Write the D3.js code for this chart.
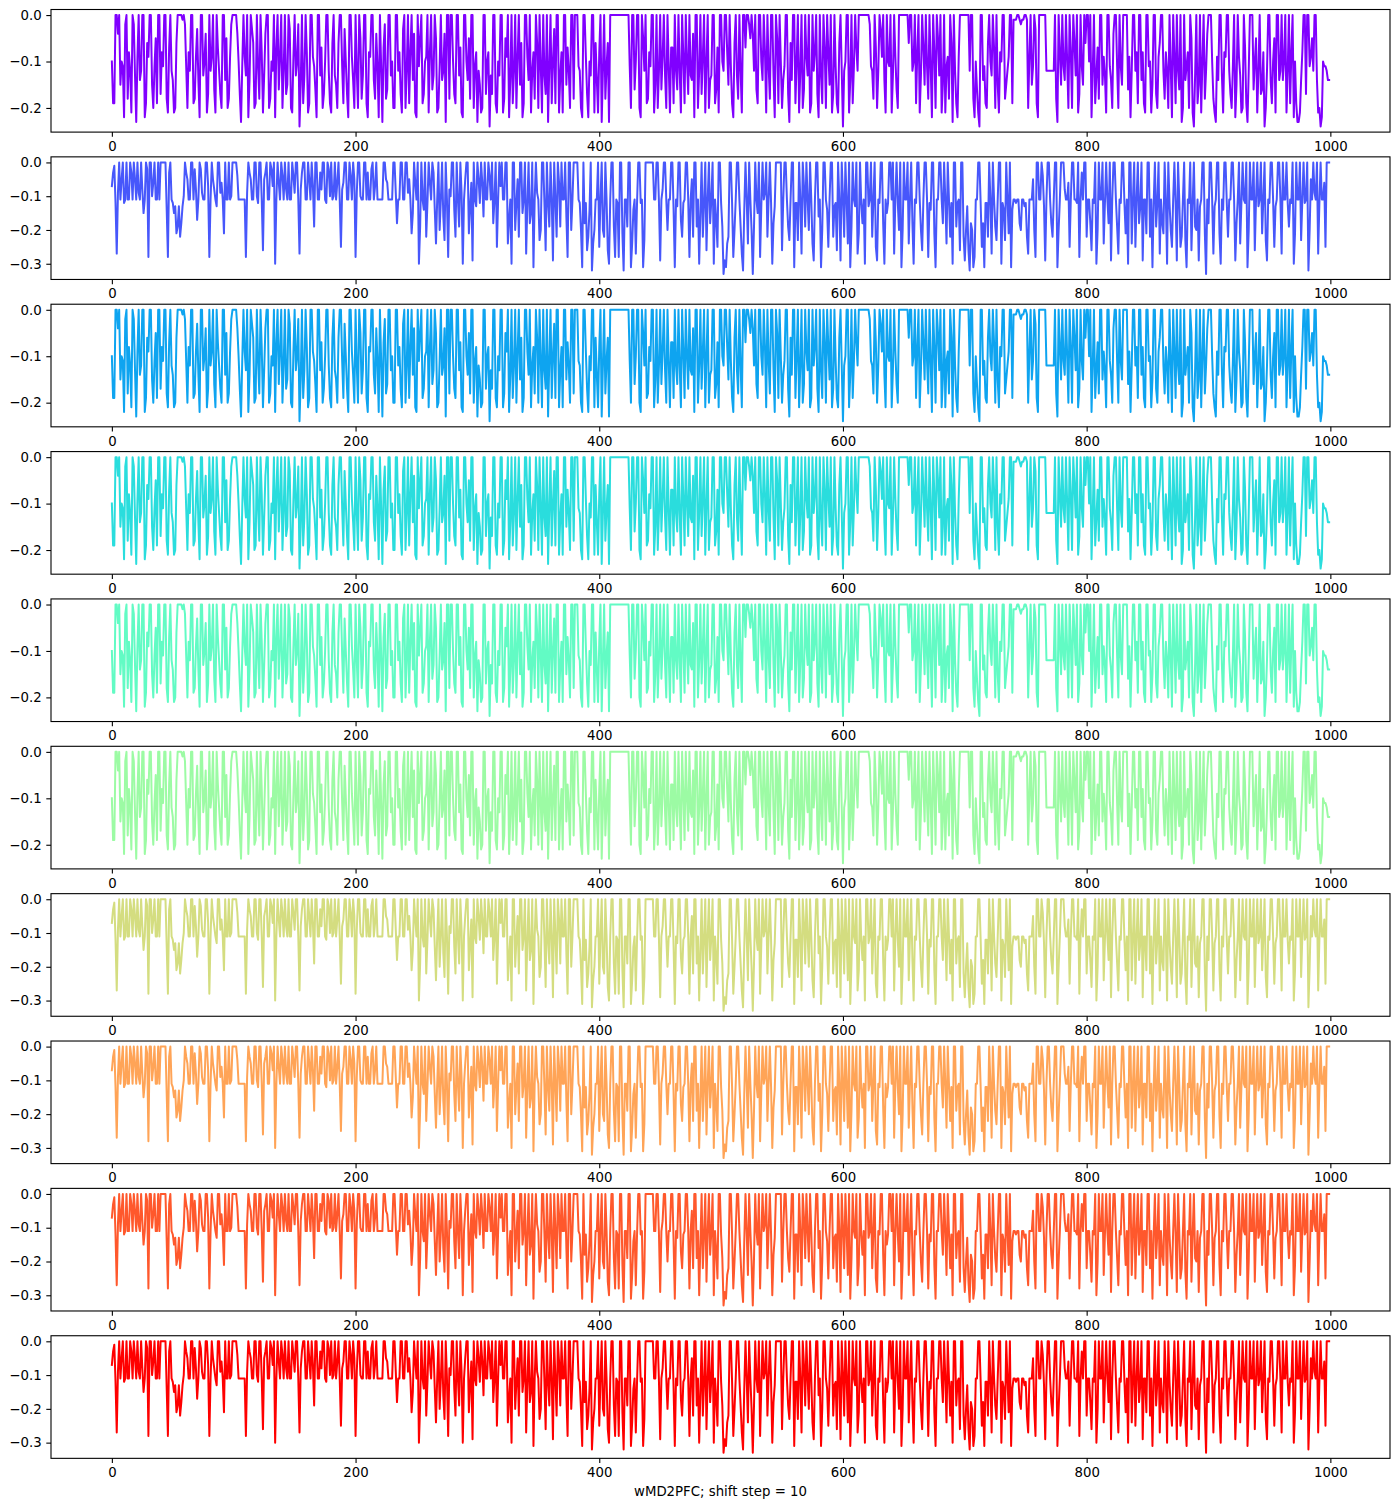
<!DOCTYPE html>
<html>
<head>
<meta charset="utf-8">
<script src="https://cdn.jsdelivr.net/npm/d3@7"></script>
<style>
  html, body { margin: 0; padding: 0; background: #fff; }
  svg { display: block; }
  text { font-family: "DejaVu Sans", sans-serif; fill: #000; }
</style>
</head>
<body>
<svg id="chart" width="1400" height="1509"></svg>
<script>
// ---------------- DATA ----------------
// Series shape "A" (shallower, min ≈ -0.24): values at even steps 0,2,...,998
const seriesAEven = [
  -.10,-.19,0,0,-.10,-.22,0,-.08,-.21,-.02,
  -.23,0,-.12,0,-.19,-.09,0,-.20,-.05,0,
  -.17,-.11,0,-.21,0,-.14,-.20,0,0,-.01,
  -.02,-.20,-.12,0,-.18,-.03,-.22,0,-.10,-.21,
  0,-.09,-.16,0,-.12,-.20,0,-.05,-.18,-.02,
  0,0,-.10,-.23,0,-.13,-.22,0,-.06,-.19,
  -.11,0,-.21,-.04,0,-.18,-.12,-.22,0,-.09,
  -.20,0,-.15,-.03,-.21,0,-.10,-.24,0,-.13,
  -.08,-.19,0,-.11,-.22,0,-.07,-.17,0,-.12,
  -.21,0,-.15,-.06,0,-.19,-.10,-.22,0,-.14,
  0,-.20,-.05,-.13,0,-.22,-.09,0,-.18,-.11,
  0,-.23,-.02,-.16,0,-.10,-.20,0,-.08,-.21,
  0,-.12,-.19,0,-.04,-.22,-.11,0,-.17,-.09,
  -.21,0,-.13,-.05,-.20,0,-.12,-.23,0,0,
  -.10,-.19,0,-.07,-.22,0,-.14,-.18,0,-.11,
  -.23,-.15,-.20,0,-.10,-.24,-.17,0,-.21,-.13,
  0,-.18,-.09,-.22,0,-.12,-.20,0,-.06,-.19,
  0,-.14,-.21,-.08,0,-.20,-.11,0,-.17,-.23,
  0,-.10,-.19,0,-.13,-.21,0,-.07,-.20,0,
  0,0,-.12,-.22,0,-.17,-.10,0,-.21,-.14,
  -.08,-.23,0,-.11,-.23,0,0,0,0,0,
  0,0,0,-.20,0,-.10,0,-.22,-.05,0,
  -.18,-.11,0,-.15,-.20,0,-.09,-.13,0,-.21,
  -.07,0,-.16,-.12,0,-.19,-.10,0,-.14,-.22,
  0,-.12,-.17,0,-.10,-.20,-.13,0,-.16,-.21,
  0,-.12,0,-.15,-.11,-.22,0,-.18,-.12,0,
  -.07,0,-.05,-.04,0,-.19,0,-.14,-.08,0,
  -.18,0,-.22,-.05,0,-.20,-.11,0,-.23,-.14,
  0,-.10,-.21,0,-.16,-.09,0,-.19,-.12,0,
  -.22,-.13,0,-.20,-.08,0,-.17,-.11,-.21,0,
  -.24,-.10,0,-.14,-.19,0,-.12,0,0,0,
  0,-.02,-.12,0,-.20,0,-.09,-.14,0,-.11,
  -.21,0,-.16,0,0,0,0,-.06,0,-.10,
  -.19,0,-.13,-.07,0,-.18,-.11,0,-.20,-.05,
  0,-.15,-.21,-.09,0,-.23,-.12,-.22,0,0,
  0,0,-.12,0,-.22,-.16,-.24,0,-.11,-.20,
  0,-.13,-.07,0,-.21,-.10,0,-.15,-.09,0,
  -.01,-.01,0,-.02,-.01,0,-.20,0,-.11,-.03,
  -.22,0,0,0,-.12,-.12,-.12,0,-.23,-.08,
  0,-.14,-.10,0,-.20,-.06,0,-.17,-.11,0,
  0,-.10,-.22,0,-.13,-.18,0,-.09,-.21,0,
  -.14,-.04,0,-.20,-.11,0,0,-.16,-.22,0,
  -.12,-.19,0,-.08,-.21,0,-.10,-.15,0,-.20,
  -.06,0,-.18,-.12,0,-.22,-.09,0,-.16,-.23,
  0,-.11,-.20,-.05,-.24,0,-.15,-.21,0,-.12,
  0,0,-.18,-.23,-.14,0,-.21,-.09,0,-.17,
  -.11,-.22,0,-.13,-.20,-.07,-.23,0,0,-.10,
  -.21,0,-.16,-.24,-.12,0,-.19,-.05,0,-.14,
  0,-.10,-.21,0,-.08,-.22,-.19,-.23,-.14,0,
  -.17,0,-.09,-.12,0,-.21,-.24,-.10,-.11,-.14
];
// Series shape "A": values at odd steps 1,3,...,999
const seriesAOdd = [
  -.19,0,-.04,-.15,-.11,-.02,-.18,-.12,0,-.13,
  -.09,-.14,0,-.22,-.06,0,-.15,-.11,-.19,0,
  -.08,0,-.18,-.07,-.12,-.21,-.06,0,0,0,
  -.11,-.08,0,-.19,-.09,-.14,0,-.13,-.04,-.17,
  -.12,0,-.21,-.07,-.17,0,-.14,-.20,-.09,0,
  0,-.04,-.17,-.11,-.09,0,-.14,-.03,-.20,0,
  -.18,-.08,-.13,0,-.20,-.10,0,-.07,-.16,0,
  -.12,-.17,0,-.20,-.09,-.13,-.02,-.15,-.19,0,
  -.21,0,-.09,-.16,0,-.13,-.20,-.10,0,-.19,
  -.06,-.13,-.20,0,-.11,-.03,-.17,0,-.09,-.20,
  -.12,0,-.18,0,-.19,-.08,0,-.14,-.04,-.22,
  -.11,-.07,-.18,0,-.13,-.20,0,-.12,-.17,-.03,
  -.20,0,-.08,-.14,-.21,0,-.05,-.19,-.10,0,
  -.08,-.16,0,-.21,-.11,-.14,-.04,0,-.18,0,
  -.17,0,-.13,-.21,0,-.10,-.05,0,-.20,-.08,
  -.12,-.21,0,-.17,-.08,-.13,0,-.19,-.10,0,
  -.21,-.05,0,-.14,-.19,0,-.09,-.15,-.22,0,
  -.09,0,-.12,-.18,-.06,0,-.21,-.13,0,-.11,
  -.19,-.03,0,-.21,-.08,0,-.15,-.12,0,-.18,
  0,-.11,-.20,0,-.09,-.22,-.13,0,-.06,-.21,
  0,-.12,-.18,-.06,0,0,0,0,0,0,
  0,0,-.11,0,-.16,0,-.20,0,-.12,-.19,
  -.08,0,-.21,0,-.12,-.16,0,-.20,-.11,-.07,
  -.19,-.12,0,-.21,-.09,0,-.17,-.13,-.04,0,
  -.20,0,-.09,-.21,0,-.14,0,-.19,-.07,0,
  -.10,0,-.08,0,-.19,-.06,-.13,0,-.21,0,
  0,-.02,0,-.12,-.16,0,-.10,0,-.21,-.11,
  0,-.13,0,-.19,-.10,-.14,0,-.17,-.06,0,
  -.19,0,-.12,-.20,0,-.13,-.21,0,-.08,-.17,
  0,-.19,-.07,0,-.15,-.21,0,-.19,-.06,-.12,
  -.12,0,-.21,0,-.11,-.07,0,0,0,0,
  0,-.11,-.18,-.07,-.12,-.03,0,-.21,-.10,0,
  -.13,-.09,-.20,0,0,0,0,0,-.12,0,
  -.08,-.21,0,-.15,-.11,0,-.22,-.08,0,-.13,
  -.21,0,-.11,-.18,-.06,0,-.19,-.09,0,0,
  0,0,0,-.18,-.10,-.21,0,-.14,-.19,-.06,
  -.10,0,-.20,-.15,-.08,0,-.18,-.12,0,-.19,
  -.01,0,-.01,-.01,0,-.01,-.09,-.15,0,-.19,
  0,0,0,-.12,-.12,-.12,-.12,-.18,0,-.15,
  -.11,0,-.20,-.08,0,-.13,-.21,0,-.15,-.06,
  0,0,-.12,-.19,-.07,0,-.15,-.13,0,-.11,
  -.20,0,-.11,0,-.15,0,0,-.09,-.12,0,
  -.08,0,-.14,-.19,0,-.11,-.21,0,-.17,-.09,
  0,-.12,-.08,-.20,-.11,0,-.19,-.12,0,-.20,
  -.14,-.08,0,-.21,-.13,-.19,0,-.10,-.18,-.04,
  0,-.10,-.21,-.09,0,-.13,-.08,0,-.12,-.20,
  0,-.15,-.09,-.21,0,-.19,-.12,0,-.16,-.05,
  -.12,-.17,-.08,-.20,0,-.14,-.10,-.21,0,-.12,
  -.14,0,-.12,-.19,0,-.10,-.23,-.21,-.08,0,
  0,-.11,-.05,0,-.14,-.20,-.22,-.11,-.12,-.14
];

// Series shape "B" (deeper, min ≈ -0.33, plateaus at ≈ -0.11): even steps
const seriesBEven = [
  -.07,-.01,-.27,0,-.05,-.12,0,-.11,-.03,0,
  -.11,-.09,0,-.15,0,-.28,0,-.06,-.11,0,
  0,0,0,-.28,0,-.12,-.13,-.19,-.22,-.13,
  0,-.05,-.11,0,-.02,-.17,0,-.09,-.11,0,
  -.28,0,-.08,-.13,0,-.06,-.21,-.11,0,-.10,
  0,0,-.11,-.11,-.11,-.28,0,-.05,-.11,0,
  -.12,0,-.26,-.03,-.11,0,-.07,-.30,0,-.11,
  -.04,0,-.11,-.11,0,-.09,0,-.27,-.03,0,
  -.11,-.05,0,-.19,0,-.11,-.08,0,-.12,-.02,
  0,-.10,-.11,0,-.25,-.06,0,-.11,-.04,0,
  -.28,0,-.10,-.11,0,-.03,-.11,0,-.07,-.11,
  -.11,-.11,0,-.06,-.11,-.11,0,-.18,-.11,0,
  -.11,0,-.05,-.21,0,-.11,-.30,0,-.14,-.22,
  0,-.11,-.03,-.24,0,-.11,-.16,0,-.28,-.10,
  0,-.22,-.11,0,-.30,-.05,0,-.13,-.29,-.11,
  0,-.12,-.06,0,-.11,-.04,0,-.11,-.25,0,
  0,-.11,0,-.17,-.30,0,-.12,-.22,0,-.11,
  -.27,0,-.15,-.31,0,-.11,-.20,0,-.26,-.12,
  0,-.29,-.11,0,-.19,-.11,0,-.28,0,-.11,
  0,0,-.12,-.31,-.18,-.26,-.14,-.32,-.20,-.11,
  -.25,0,-.22,-.11,-.30,0,-.19,-.11,-.28,0,
  -.32,-.11,0,-.31,-.14,-.27,0,-.12,-.31,0,
  0,0,0,-.11,0,-.29,-.08,0,-.20,-.11,
  0,-.31,-.13,0,-.22,-.11,0,-.28,-.05,0,
  -.19,-.30,0,-.12,-.26,0,-.11,-.30,-.17,0,
  -.12,-.33,-.31,-.22,0,-.28,-.11,0,-.19,-.32,
  0,-.24,-.11,-.33,0,-.15,-.28,0,-.09,-.22,
  0,-.30,-.13,0,0,-.26,0,-.11,-.23,0,
  -.31,-.12,0,-.27,-.07,0,-.20,-.11,-.29,0,
  -.16,-.31,0,-.11,-.25,0,-.22,-.12,0,-.29,
  -.10,0,-.24,-.31,0,-.13,-.27,0,-.18,-.30,
  0,-.11,-.22,0,-.29,-.12,0,-.30,-.15,0,
  -.11,-.27,0,-.20,-.31,0,-.11,-.24,0,-.30,
  -.12,0,-.20,-.11,0,-.28,-.14,0,-.31,-.11,
  0,-.18,-.11,0,-.22,-.30,0,-.12,-.26,0,
  -.29,-.13,-.32,-.20,-.28,-.11,0,-.25,-.31,-.12,
  0,-.27,-.11,-.23,0,-.30,-.14,0,-.21,-.31,
  -.11,-.12,-.11,-.20,-.11,-.12,-.27,-.11,-.05,-.28,
  0,-.11,-.04,-.29,0,-.11,-.22,0,-.31,-.11,
  0,-.08,-.11,-.25,0,-.11,-.12,-.28,-.03,0,
  -.22,-.11,-.26,-.12,-.30,0,-.11,-.24,0,-.18,
  -.29,0,-.11,-.27,-.12,0,-.21,-.30,0,-.11,
  -.25,0,-.13,-.29,-.11,0,-.22,-.31,0,-.12,
  -.27,-.18,0,-.30,-.12,-.25,0,-.29,-.11,-.22,
  0,-.31,-.12,-.26,0,-.20,-.29,-.11,0,-.33,
  -.18,0,-.27,-.11,0,-.30,-.14,0,-.22,-.11,
  0,-.29,-.11,-.24,0,-.12,-.31,0,-.11,-.26,
  0,-.11,-.21,0,-.29,-.12,0,-.25,-.11,0,
  -.27,-.11,0,-.19,-.12,-.30,0,-.11,-.23,0,
  -.11,-.32,-.05,0,-.11,-.27,0,-.11,-.25,0
];
// Series shape "B": odd steps
const seriesBOdd = [
  -.03,-.12,-.09,-.11,0,-.11,-.11,0,-.11,-.05,
  0,-.11,-.08,-.11,-.02,0,-.10,0,-.11,-.11,
  0,0,-.14,-.03,-.11,-.15,-.21,-.13,-.18,-.10,
  -.03,-.11,0,-.11,-.08,-.11,-.02,-.11,0,-.07,
  -.11,-.05,-.11,0,-.09,-.11,0,-.11,-.11,0,
  0,-.04,-.11,-.11,-.11,-.09,-.03,-.11,0,-.10,
  0,-.11,-.05,0,-.11,-.02,0,-.11,-.06,0,
  -.11,-.08,0,-.11,-.04,0,-.11,-.08,0,-.11,
  0,-.11,-.07,0,-.11,-.03,0,-.11,0,-.10,
  -.11,0,-.06,-.11,-.08,0,-.11,0,-.11,-.05,
  -.09,0,-.11,0,-.11,-.11,-.02,-.11,0,-.11,
  -.11,0,-.05,-.11,-.11,0,-.09,-.11,0,-.11,
  0,-.09,-.11,-.15,-.06,0,-.19,-.11,0,-.12,
  -.06,0,-.14,-.11,-.20,0,-.23,-.11,-.08,0,
  -.14,0,-.19,-.09,-.11,0,-.21,-.06,0,-.13,
  -.05,0,-.16,-.11,0,-.11,-.18,0,-.11,-.07,
  -.11,0,-.24,-.11,0,-.20,-.05,0,-.15,0,
  -.12,-.18,0,-.11,-.09,-.23,0,-.12,0,-.19,
  -.11,0,-.22,-.06,0,-.11,-.16,0,-.20,0,
  0,-.11,-.20,0,-.12,-.22,0,-.24,-.11,0,
  -.11,-.20,0,-.26,-.11,0,-.28,-.12,0,-.21,
  -.11,-.19,0,-.24,-.11,-.12,0,-.11,-.23,0,
  0,0,-.11,0,-.12,-.11,0,-.11,-.11,0,
  -.14,-.11,0,-.17,-.12,0,-.11,-.11,-.22,0,
  -.11,-.15,-.22,0,-.11,-.18,0,-.11,-.25,0,
  -.19,-.29,-.24,0,-.12,-.20,0,-.11,-.27,-.14,
  -.11,0,-.20,-.19,-.11,0,-.13,-.11,0,-.11,
  -.12,-.18,0,0,0,-.11,0,-.19,-.11,0,
  -.12,-.23,-.11,0,-.19,-.11,0,-.24,-.11,0,
  -.11,-.20,0,-.14,-.11,0,-.13,-.26,-.11,0,
  -.22,-.11,0,-.19,-.11,0,-.21,-.12,-.11,0,
  -.13,0,-.11,-.25,-.11,0,-.18,-.11,-.12,0,
  0,-.11,-.12,0,-.20,-.11,0,-.11,-.18,-.11,
  0,-.11,-.26,0,-.11,-.12,0,-.21,-.11,0,
  -.11,0,-.24,-.11,-.12,0,-.19,-.11,0,-.22,
  -.20,-.26,-.18,-.31,-.11,0,-.12,-.18,-.12,-.22,
  -.11,0,-.19,-.11,0,-.12,-.23,-.11,0,-.14,
  -.11,-.11,-.18,-.11,-.13,-.22,-.11,-.11,-.20,0,
  -.11,0,-.13,-.11,0,-.18,-.11,0,-.20,0,
  0,-.11,-.06,-.11,0,-.11,0,-.11,-.11,0,
  -.11,-.18,-.11,0,-.20,-.11,0,-.12,-.11,0,
  -.11,0,-.19,-.11,0,-.12,-.11,0,-.24,0,
  -.11,-.18,0,-.11,-.21,0,-.11,-.12,-.19,0,
  -.11,-.21,-.11,0,-.20,-.11,-.12,0,-.25,-.11,
  -.23,-.11,0,-.12,-.19,-.11,-.13,0,-.21,-.11,
  0,-.11,-.13,0,-.21,-.11,0,-.12,-.11,0,
  -.11,-.18,0,-.12,-.11,0,-.20,-.11,0,-.11,
  -.13,0,-.11,-.23,-.11,0,-.11,-.13,0,-.11,
  0,-.11,-.12,-.11,0,-.21,-.11,0,-.11,-.12,
  0,-.20,-.11,-.09,0,-.12,-.11,-.06,0,0
];

// which series shape each of the 10 panels shows (top to bottom)
const panelSeries = ["A","B","A","A","A","A","B","B","B","B"];
// rainbow colormap samples, one per panel
const panelColors = ["#8000ff","#4757fb","#0ea4f0","#2adddd","#62fbc4",
                     "#9cfba4","#d4dd80","#ffa457","#ff582c","#ff0000"];
const xTicks = [0, 200, 400, 600, 800, 1000];
const yTicksA = [0, -0.1, -0.2];
const yTicksB = [0, -0.1, -0.2, -0.3];
const xMaxStep = 999;
const xLabel = "wMD2PFC; shift step = 10";

// ---------------- LAYOUT ----------------
const svg = d3.select("#chart");
const left = 51, right = 1390;
const top0 = 9.5, panelStep = 147.36, panelH = 122.6;
const fontSize = 13.3;

const x = d3.scaleLinear()
  .domain([0 - 0.05 * xMaxStep, xMaxStep + 0.05 * xMaxStep])
  .range([left, right]);

// merge even/odd readings into one time-ordered list of {t, v}
function merge(even, odd) {
  const out = [];
  even.forEach((v, i) => {
    out.push({ t: 2 * i, v });
    if (i < odd.length) out.push({ t: 2 * i + 1, v: odd[i] });
  });
  return out;
}
const shapes = {
  A: merge(seriesAEven, seriesAOdd),
  B: merge(seriesBEven, seriesBOdd)
};

panelSeries.forEach((key, k) => {
  const pts = shapes[key];
  const vmin = d3.min(pts, d => d.v), vmax = d3.max(pts, d => d.v);
  const r = vmax - vmin;
  const top = top0 + k * panelStep;
  const bottom = top + panelH;
  const y = d3.scaleLinear()
    .domain([vmin - 0.05 * r, vmax + 0.05 * r])
    .range([bottom, top]);

  const g = svg.append("g");
  const clipId = "clip" + k;
  g.append("clipPath").attr("id", clipId)
    .append("rect").attr("x", left).attr("y", top)
    .attr("width", right - left).attr("height", panelH);

  g.append("path")
    .datum(pts)
    .attr("clip-path", `url(#${clipId})`)
    .attr("fill", "none")
    .attr("stroke", panelColors[k])
    .attr("stroke-width", 2)
    .attr("stroke-linejoin", "round")
    .attr("stroke-linecap", "square")
    .attr("d", d3.line().x(d => x(d.t)).y(d => y(d.v)));

  // frame (spines)
  g.append("rect")
    .attr("x", left).attr("y", top)
    .attr("width", right - left).attr("height", panelH)
    .attr("fill", "none").attr("stroke", "#000").attr("stroke-width", 1.1);

  // x axis
  const xa = g.append("g").attr("transform", `translate(0,${bottom})`)
    .call(d3.axisBottom(x).tickValues(xTicks).tickSize(4.7).tickPadding(4.7)
      .tickFormat(d3.format("d")));
  xa.select(".domain").remove();
  xa.selectAll("line").attr("stroke", "#000").attr("stroke-width", 1.1);
  xa.selectAll("text").attr("font-size", fontSize)
    .attr("font-family", "DejaVu Sans, sans-serif").attr("fill", "#000");

  // y axis
  const ya = g.append("g").attr("transform", `translate(${left},0)`)
    .call(d3.axisLeft(y).tickValues(key === "A" ? yTicksA : yTicksB)
      .tickSize(4.7).tickPadding(4.7).tickFormat(d3.format(".1f")));
  ya.select(".domain").remove();
  ya.selectAll("line").attr("stroke", "#000").attr("stroke-width", 1.1);
  ya.selectAll("text").attr("font-size", fontSize)
    .attr("font-family", "DejaVu Sans, sans-serif").attr("fill", "#000");
});

svg.append("text")
  .attr("x", (left + right) / 2)
  .attr("y", 1496)
  .attr("text-anchor", "middle")
  .attr("font-size", fontSize)
  .text(xLabel);
</script>
</body>
</html>
